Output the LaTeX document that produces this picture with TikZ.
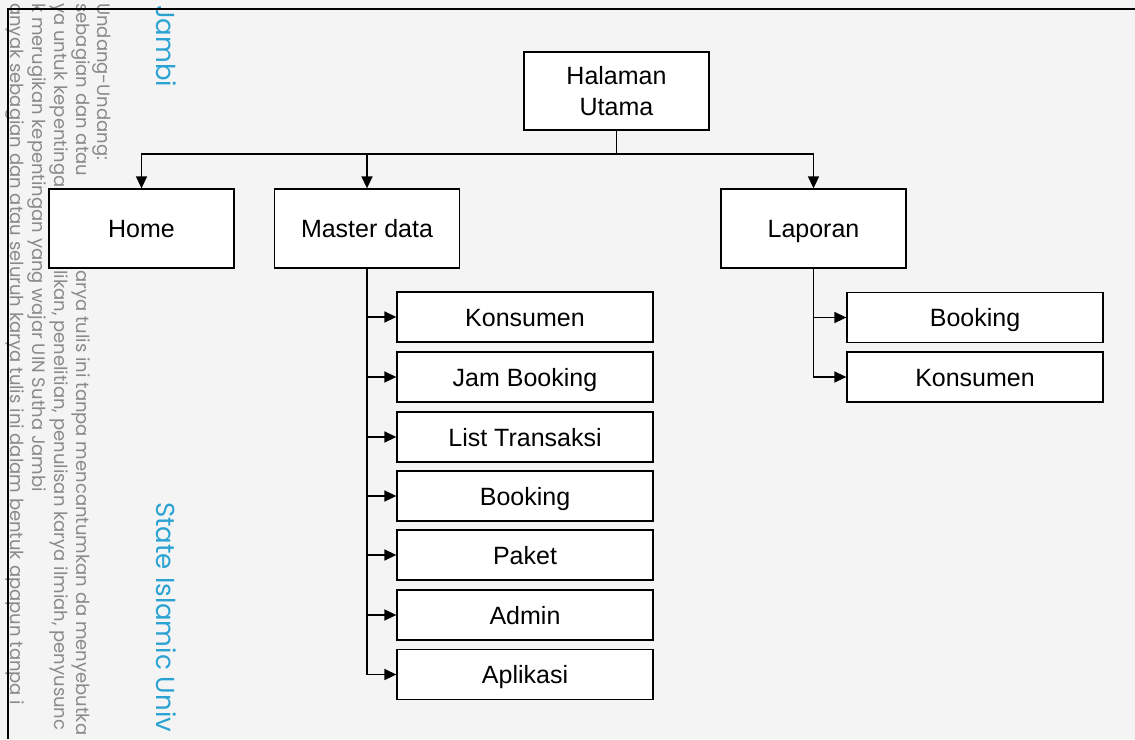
\documentclass[tikz,border=0pt]{standalone}
\usepackage{fontspec}
\setmainfont{Liberation Sans}
\newfontfamily\wmfont{Poppins}
\usetikzlibrary{arrows.meta}
\definecolor{bg}{HTML}{F4F4F4}
\definecolor{wmgray}{HTML}{8A8A8A}
\definecolor{wmblue}{HTML}{2AA3D3}
\begin{document}
\begin{tikzpicture}[x=1pt,y=-1pt,
  box/.style={draw=black, line width=1.3pt, fill=white, inner sep=0pt, font=\fontsize{25}{31.5}\selectfont, align=center},
  mainbox/.style={box, minimum width=185pt, minimum height=79pt, text height=18pt, text depth=0pt},
  subbox/.style={box, minimum width=256pt, minimum height=50pt, text height=18pt, text depth=0pt},
  arr/.style={line width=1.5pt, -{Triangle[length=12pt,width=11pt]}},
  link/.style={line width=1.5pt},
  wm/.style={rotate=-90, anchor=base west, inner sep=0pt, text=wmgray, font=\wmfont\fontsize{18}{18}\selectfont},
  wmb/.style={rotate=-90, anchor=base west, inner sep=0pt, text=wmblue, font=\wmfont\fontsize{26}{26}\selectfont}]
\fill[bg] (0,0) rectangle (1135,739);
\useasboundingbox (0,0) rectangle (1135,739);
% watermark
\begin{scope}
\clip (0,0) rectangle (1135,739);
\node[wm] (w1) at (97,3) {Undang-Undang:};
\node[wm] (w2) at (76,3) {sebagian dan atau};
\node[wm] (w3) at (76,270) {arya tulis ini tanpa mencantumkan da menyebutka};
\node[wm] (w4) at (54,3) {ya untuk kepentinga};
\node[wm] (w5) at (54,270) {likan, penelitian, penulisan karya ilmiah, penyusunc};
\node[wm] (w6) at (32,3) {k merugikan kepentingan yang wajar UIN Sutha Jambi};
\node[wm] (w7) at (10,3) {anyak sebagian dan atau seluruh karya tulis ini dalam bentuk apapun tanpa i};
\node[wmb] (w8) at (156,5) {Jambi};
\node[wmb] (w9) at (156,502) {State Islamic Univ};
\end{scope}
% frame
\draw[line width=2pt] (8,739) -- (8,9) -- (1135,9);
% nodes
\node[box, minimum width=185pt, minimum height=78pt] (top) at (616.5,91) {Halaman\\Utama};
\node[mainbox] (home) at (141.5,228.5) {Home};
\node[mainbox] (master) at (367,228.5) {Master data};
\node[mainbox] (lap) at (813.5,228.5) {Laporan};
\node[subbox] (m1) at (525,317) {Konsumen};
\node[subbox] (m2) at (525,377) {Jam Booking};
\node[subbox] (m3) at (525,437) {List Transaksi};
\node[subbox] (m4) at (525,496) {Booking};
\node[subbox] (m5) at (525,555) {Paket};
\node[subbox] (m6) at (525,615) {Admin};
\node[subbox] (m7) at (525,674.5) {Aplikasi};
\node[subbox] (l1) at (975,317.5) {Booking};
\node[subbox] (l2) at (975,377) {Konsumen};
% connectors
\coordinate (bus) at (616.5,154);
\draw[link] (top.south) -- (bus);
\draw[arr] (bus) -| (home.north);
\draw[arr] (bus) -| (master.north);
\draw[arr] (bus) -| (lap.north);
\foreach \n in {m1,m2,m3,m4,m5,m6,m7}{
  \draw[arr] (master.south) |- (\n.west);
}
\foreach \n in {l1,l2}{
  \draw[arr] (lap.south) |- (\n.west);
}
\end{tikzpicture}
\end{document}
